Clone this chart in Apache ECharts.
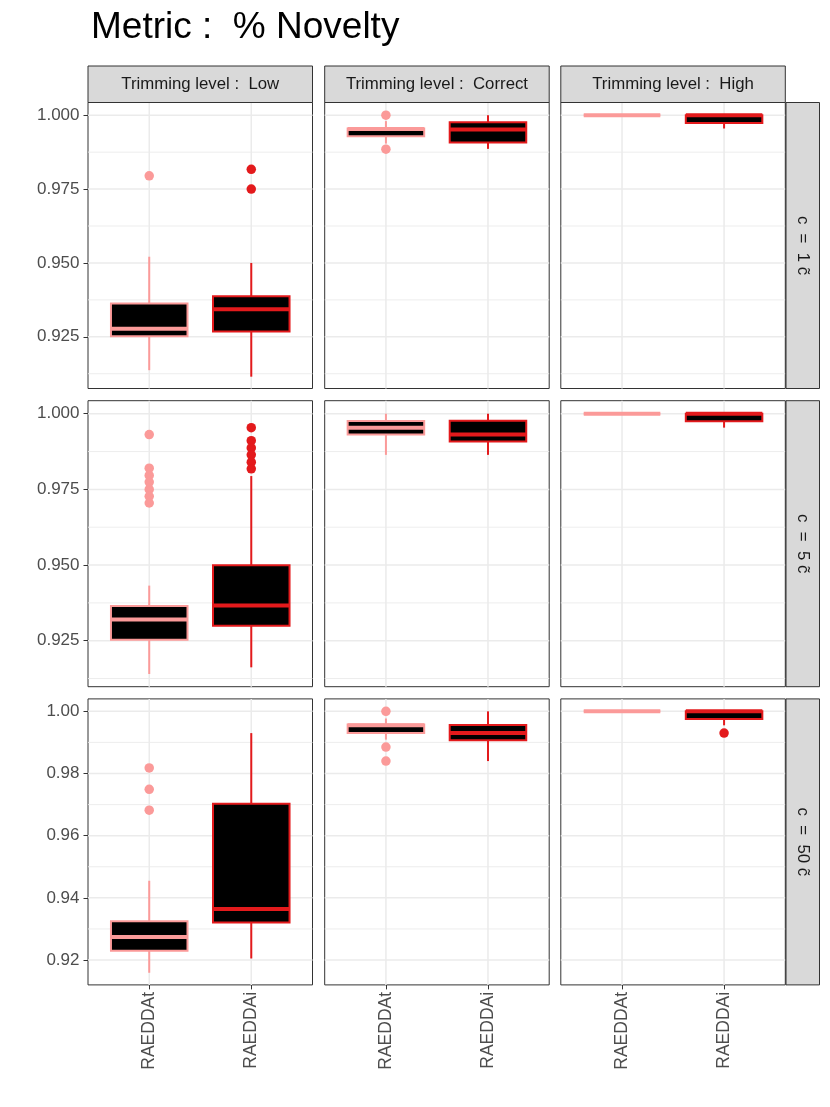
<!DOCTYPE html>
<html><head><meta charset="utf-8">
<script src="https://cdn.jsdelivr.net/npm/echarts@6/dist/echarts.min.js"></script>
<style>html,body{margin:0;padding:0;background:#fff}#c{width:830px;height:1107px}</style>
</head><body><div id="c"></div>
<script>
const chartTitle = 'Metric :  % Novelty';
const colLabels = ['Trimming level :  Low', 'Trimming level :  Correct', 'Trimming level :  High'];
const rowLabels = ['c  =  1 c\u0303', 'c  =  5 c\u0303', 'c  =  50 c\u0303'];
const methods = ['RAEDDAt', 'RAEDDAi'];
const methodColors = ['#FB9A99', '#E31A1C'];

// box stats: [lower whisker, Q1, median, Q3, upper whisker] for [RAEDDAt, RAEDDAi]
const boxR1Low     = [[0.9137, 0.9252, 0.9277, 0.9363, 0.9521], [0.9115, 0.9268, 0.9343, 0.9387, 0.9500]];
const boxR1Correct = [[0.9904, 0.9929, 0.9953, 0.9955, 0.9980], [0.9886, 0.9908, 0.9952, 0.9976, 1.0000]];
const boxR1High    = [[1.0000, 1.0000, 1.0000, 1.0000, 1.0000], [0.9955, 0.9974, 1.0000, 1.0000, 1.0000]];
const boxR2Low     = [[0.9140, 0.9253, 0.9320, 0.9365, 0.9432], [0.9162, 0.9299, 0.9366, 0.9499, 0.9794]];
const boxR2Correct = [[0.9864, 0.9931, 0.9954, 0.9976, 1.0000], [0.9864, 0.9908, 0.9931, 0.9977, 1.0000]];
const boxR2High    = [[1.0000, 1.0000, 1.0000, 1.0000, 1.0000], [0.9954, 0.9975, 1.0000, 1.0000, 1.0000]];
const boxR3Low     = [[0.9159, 0.9230, 0.9274, 0.9325, 0.9455], [0.9205, 0.9321, 0.9364, 0.9703, 0.9930]];
const boxR3Correct = [[0.9909, 0.9930, 0.9955, 0.9958, 0.9977], [0.9840, 0.9907, 0.9930, 0.9956, 1.0000]];
const boxR3High    = [[1.0000, 1.0000, 1.0000, 1.0000, 1.0000], [0.9955, 0.9975, 1.0000, 1.0000, 1.0000]];

// outliers for [RAEDDAt, RAEDDAi]
const outR1Low     = [[0.9795], [0.9817, 0.9750]];
const outR1Correct = [[1.0000, 0.9885], []];
const outR1High    = [[], []];
const outR2Low     = [[0.9931, 0.9820, 0.9796, 0.9774, 0.9750, 0.9727, 0.9705], [0.9954, 0.9911, 0.9887, 0.9864, 0.9840, 0.9818]];
const outR2Correct = [[], []];
const outR2High    = [[], []];
const outR3Low     = [[0.9818, 0.9749, 0.9682], []];
const outR3Correct = [[1.0000, 0.9885, 0.9840], []];
const outR3High    = [[], [0.9930]];

// y scales per row
const yMinRow = [0.9075, 0.9098, 0.9120];
const yMaxRow = [1.0043, 1.0043, 1.0040];
const yTicksR1 = [0.925, 0.950, 0.975, 1.000];
const yTicksR2 = [0.925, 0.950, 0.975, 1.000];
const yTicksR3 = [0.92, 0.94, 0.96, 0.98, 1.00];
const yMinorR1 = [0.9125, 0.9375, 0.9625, 0.9875];
const yMinorR2 = [0.9125, 0.9375, 0.9625, 0.9875];
const yMinorR3 = [0.93, 0.95, 0.97, 0.99];
const yDecimals = [3, 3, 2];
const xPositions = [1, 2];

const boxes = [[boxR1Low, boxR1Correct, boxR1High], [boxR2Low, boxR2Correct, boxR2High], [boxR3Low, boxR3Correct, boxR3High]];
const outs = [[outR1Low, outR1Correct, outR1High], [outR2Low, outR2Correct, outR2High], [outR3Low, outR3Correct, outR3High]];
const yTicks = [yTicksR1, yTicksR2, yTicksR3];
const yMinor = [yMinorR1, yMinorR2, yMinorR3];

// layout
const FONT = '"Liberation Sans", Arial, Helvetica, sans-serif';
const colLefts = [88, 324.7, 560.8];
const colW = 224.5;
const rowTops = [102.5, 400.7, 698.9];
const rowH = 286;
const boxHalf = 0.375;

const grids = [], xAxes = [], yAxes = [], series = [], graphics = [];

for (let r = 0; r < 3; r++) {
  for (let c = 0; c < 3; c++) {
    const gi = r * 3 + c;
    grids.push({left: colLefts[c], top: rowTops[r], width: colW, height: rowH,
      show: true, backgroundColor: '#fff', borderColor: '#333', borderWidth: 1, z: 0});
    const bottom = r === 2;
    xAxes.push({type: 'value', gridIndex: gi, min: 0.4, max: 2.6,
      axisLine: {show: false}, splitLine: {show: false},
      axisTick: {show: bottom, customValues: xPositions, length: 4.5, lineStyle: {color: '#333', width: 1}},
      axisLabel: {show: bottom, customValues: xPositions, rotate: 90, margin: 7,
        formatter: v => methods[Math.round(v) - 1], color: '#4D4D4D', fontSize: 17.5, fontFamily: FONT}
    });
    const left = c === 0;
    yAxes.push({type: 'value', gridIndex: gi, min: yMinRow[r], max: yMaxRow[r],
      axisLine: {show: false}, splitLine: {show: false},
      axisTick: {show: left, customValues: yTicks[r], length: 4.5, lineStyle: {color: '#333', width: 1}},
      axisLabel: {show: left, customValues: yTicks[r], margin: 8.5,
        formatter: v => v.toFixed(yDecimals[r]), color: '#4D4D4D', fontSize: 17, fontFamily: FONT}
    });
    // gridlines
    const gl = [];
    yTicks[r].forEach(v => gl.push([0, v, 1]));
    yMinor[r].forEach(v => gl.push([0, v, 0]));
    xPositions.forEach(v => gl.push([1, v, 1]));
    series.push({type: 'custom', xAxisIndex: gi, yAxisIndex: gi, z: 1, silent: true, data: gl,
      renderItem: (params, api) => {
        const cs = params.coordSys;
        const o = api.value(0), v = api.value(1), maj = api.value(2);
        const style = {stroke: '#EBEBEB', lineWidth: maj ? 1.5 : 0.9};
        if (o === 0) {
          const y = api.coord([1, v])[1];
          return {type: 'line', shape: {x1: cs.x, y1: y, x2: cs.x + cs.width, y2: y}, style};
        }
        const x = api.coord([v, 1])[0];
        return {type: 'line', shape: {x1: x, y1: cs.y, x2: x, y2: cs.y + cs.height}, style};
      }
    });
    // boxes
    const bd = boxes[r][c].map((s, i) => [xPositions[i]].concat(s));
    series.push({type: 'custom', xAxisIndex: gi, yAxisIndex: gi, z: 2, silent: true, data: bd,
      encode: {x: 0, y: [1, 2, 3, 4, 5]},
      renderItem: (params, api) => {
        const x = api.value(0);
        const col = methodColors[params.dataIndex];
        const lo = api.coord([x, api.value(1)]), q1 = api.coord([x, api.value(2)]),
              md = api.coord([x, api.value(3)]), q3 = api.coord([x, api.value(4)]),
              hi = api.coord([x, api.value(5)]);
        const xl = api.coord([x - boxHalf, 1])[0], xr = api.coord([x + boxHalf, 1])[0];
        const cx = lo[0];
        const ls = {stroke: col, lineWidth: 2};
        return {type: 'group', children: [
          {type: 'line', shape: {x1: cx, y1: hi[1], x2: cx, y2: q3[1]}, style: ls},
          {type: 'line', shape: {x1: cx, y1: q1[1], x2: cx, y2: lo[1]}, style: ls},
          {type: 'rect', shape: {x: xl, y: q3[1], width: xr - xl, height: q1[1] - q3[1]},
            style: {fill: '#000', stroke: col, lineWidth: 2}},
          {type: 'line', shape: {x1: xl, y1: md[1], x2: xr, y2: md[1]}, style: {stroke: col, lineWidth: 4}}
        ]};
      }
    });
    // outliers
    const od = [];
    outs[r][c].forEach((arr, i) => arr.forEach(v => od.push({value: [xPositions[i], v], itemStyle: {color: methodColors[i], opacity: 1}})));
    series.push({type: 'scatter', xAxisIndex: gi, yAxisIndex: gi, z: 3, silent: true,
      symbol: 'circle', symbolSize: 9.5, data: od});
  }
}

// strips
for (let c = 0; c < 3; c++) {
  graphics.push({type: 'rect', shape: {x: colLefts[c], y: 66, width: colW, height: 36.5},
    style: {fill: '#D9D9D9', stroke: '#333', lineWidth: 1}, z: 10});
  graphics.push({type: 'text', x: colLefts[c] + colW / 2, y: 84.5, z: 11,
    style: {text: colLabels[c], fill: '#1A1A1A', font: '16.8px ' + FONT, align: 'center', verticalAlign: 'middle'}});
}
for (let r = 0; r < 3; r++) {
  graphics.push({type: 'rect', shape: {x: 786, y: rowTops[r], width: 33.5, height: rowH},
    style: {fill: '#D9D9D9', stroke: '#333', lineWidth: 1}, z: 10});
  graphics.push({type: 'text', x: 803, y: rowTops[r] + rowH / 2, rotation: -Math.PI / 2, z: 11,
    style: {text: rowLabels[r], fill: '#1A1A1A', font: '16.8px ' + FONT, align: 'center', verticalAlign: 'middle'}});
}

const chart = echarts.init(document.getElementById('c'), null, {renderer: 'canvas'});
chart.setOption({
  animation: false,
  backgroundColor: '#fff',
  title: {text: chartTitle, left: 86, top: 4, textStyle: {fontSize: 37, fontWeight: 'normal', color: '#000', fontFamily: FONT}},
  grid: grids, xAxis: xAxes, yAxis: yAxes, series: series,
  graphic: graphics
});
</script></body></html>
